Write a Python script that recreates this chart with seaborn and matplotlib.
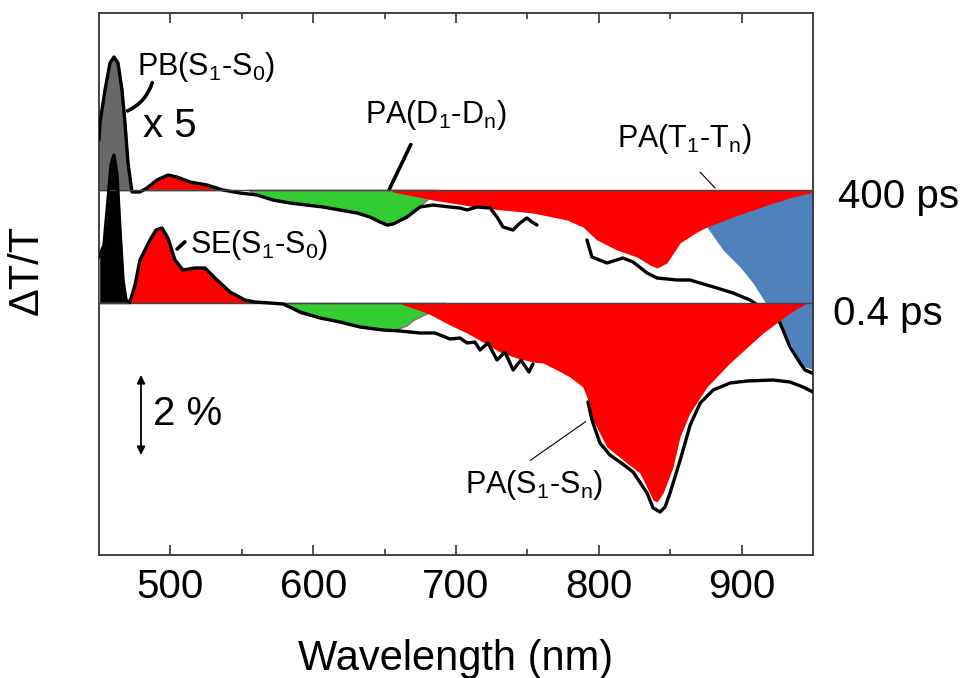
import numpy as np
import pandas as pd
import matplotlib
matplotlib.use("Agg")
import matplotlib.pyplot as plt
import seaborn as sns
from matplotlib.ticker import FixedLocator

# ---------------- data (wavelength in nm, dT/T in %) ----------------
offset_400 = 2.825          # vertical offset of the 400 ps trace

# 0.4 ps measured trace (two segments, gap near the fundamental)
wl_04_a = [450.0, 453.5, 456.3, 458.4, 460.5, 462.6, 464.7, 466.8, 468.9, 471.7,
           475.2, 478.7, 485.7, 489.9, 494.1, 498.3, 503.2, 508.8, 517.2, 524.2,
           531.2, 541.7, 552.2, 559.2, 569.7, 578.9, 590.8, 604.8, 618.8, 632.8,
           648.9, 660.8, 674.8, 685.3, 695.8, 702.8, 707.7, 713.2, 716.8, 722.4,
           728.7, 734.3, 740.0, 745.5, 751.1, 753.9]
dt_04_a = [1.15, 1.45, 2.575, 3.45, 3.70, 3.20, 1.825, 0.575, 0.075, 0.025,
           0.45, 1.075, 1.575, 1.825, 1.875, 1.625, 1.075, 0.825, 0.875, 0.875,
           0.625, 0.275, 0.075, 0.025, 0.0, -0.025, -0.225, -0.375, -0.475, -0.6,
           -0.675, -0.7, -0.75, -0.75, -0.9, -0.875, -1.0, -0.975, -1.175, -1.0,
           -1.425, -1.225, -1.675, -1.425, -1.725, -1.525]
wl_04_b = [792.4, 795.2, 800.8, 807.8, 814.8, 824.0, 833.8, 838.0, 842.9, 846.4,
           849.9, 857.0, 864.0, 871.0, 880.1, 892.0, 903.8, 922.0, 933.9, 943.0, 950.0]
dt_04_b = [-2.475, -2.925, -3.5, -3.8, -3.975, -4.225, -4.75, -5.125, -5.225, -5.1,
           -4.75, -3.925, -3.05, -2.5, -2.175, -2.0, -1.95, -1.925, -1.975, -2.1, -2.225]

# 400 ps measured trace (x5)
wl_400_a = [450.0, 450.7, 454.2, 457.7, 460.5, 463.3, 466.1, 468.2, 470.3, 473.1,
            478.7, 483.6, 490.6, 498.3, 504.6, 513.7, 525.6, 536.8, 548.7, 560.6,
            571.8, 583.8, 606.9, 630.7, 639.8, 646.8, 651.7, 655.9, 665.7, 674.8,
            683.9, 695.8, 702.8, 707.7, 714.7, 723.8, 728.7, 732.9, 739.9, 744.8,
            749.7, 753.2, 756.7]
dt_400_a = [1.25, 1.675, 2.5, 3.175, 3.325, 3.175, 2.5, 1.675, 0.675, -0.05,
            -0.05, 0.05, 0.25, 0.375, 0.325, 0.2, 0.125, 0.0, -0.075, -0.125,
            -0.25, -0.325, -0.425, -0.575, -0.675, -0.8, -0.875, -0.85, -0.675, -0.425,
            -0.375, -0.425, -0.45, -0.5, -0.425, -0.45, -0.675, -0.925, -1.0, -0.825,
            -0.7, -0.8, -0.875]
wl_400_b = [791.7, 795.2, 805.7, 816.9, 824.0, 833.8, 840.8, 854.8, 863.9, 870.8,
            882.8, 894.0, 905.9, 916.4, 926.9, 933.9, 940.9, 944.4, 949.3]
dt_400_b = [-1.25, -1.675, -1.825, -1.7, -1.8, -2.075, -2.2, -2.25, -2.25, -2.325,
            -2.45, -2.575, -2.75, -3.0, -3.325, -3.925, -4.325, -4.5, -4.575]

# schematic components, 400 ps
wl_dd_400 = [555.0, 557.8, 571.8, 583.8, 606.9, 630.7, 639.8, 646.8, 651.7, 655.9,
             665.7, 672.7, 681.8, 686.7]
dt_dd_400 = [0.0, -0.075, -0.25, -0.325, -0.425, -0.575, -0.675, -0.8, -0.875, -0.85,
             -0.675, -0.45, -0.175, 0.0]
wl_tt_400 = [655.0, 655.9, 683.9, 718.9, 753.9, 777.7, 788.9, 798.7, 812.7, 826.8,
             835.9, 840.8, 847.7, 856.8, 868.7, 875.7, 894.0, 917.8, 936.0, 947.9, 949.5]
dt_tt_400 = [0.0, -0.05, -0.25, -0.45, -0.575, -0.75, -0.925, -1.25, -1.5, -1.675,
             -1.875, -1.95, -1.825, -1.325, -1.05, -0.925, -0.675, -0.375, -0.175, -0.075, 0.0]
wl_blue = [875.7, 887.0, 898.9, 908.0, 916.4, 925.5, 933.9, 940.9, 944.4, 949.3, 950.0]
dt_blue = [-0.925, -1.5, -1.925, -2.325, -2.8, -3.3, -3.825, -4.3, -4.425, -4.475, -4.475]

# schematic components, 0.4 ps
wl_dd_04 = [578.9, 590.8, 604.8, 618.8, 632.8, 648.9, 658.7, 665.7, 669.9, 676.9,
            681.8, 688.8, 692.3]
dt_dd_04 = [0.0, -0.25, -0.375, -0.475, -0.6, -0.675, -0.65, -0.55, -0.425, -0.3,
            -0.225, -0.05, 0.0]
wl_ss_04 = [659.4, 679.7, 695.8, 707.7, 718.9, 730.8, 742.7, 753.9, 760.9, 770.7,
            779.8, 788.9, 792.4, 795.9, 805.7, 819.7, 828.8, 838.0, 840.8, 845.0,
            852.0, 856.8, 863.8, 875.7, 891.8, 915.0, 933.9, 944.4, 947.9]
dt_ss_04 = [0.0, -0.25, -0.55, -0.75, -0.975, -1.225, -1.375, -1.475, -1.5, -1.675,
            -1.85, -2.1, -2.425, -2.925, -3.6, -4.0, -4.25, -4.925, -4.975, -4.75,
            -4.1, -3.35, -2.75, -2.1, -1.5, -0.75, -0.25, -0.025, 0.0]

x_ticks = [500, 600, 700, 800, 900]
x_minor = [550, 650, 750, 850]

RED = "#ff0000"
GREEN = "#33cc33"
BLUE = "#4f81bd"
PBGRAY = "#686868"
EDGE = "#7a7a7a"

# ---------------- figure ----------------
sns.set_theme(style="white")
plt.rcParams["font.family"] = ["Liberation Sans", "DejaVu Sans"]
plt.rcParams["mathtext.fontset"] = "custom"
plt.rcParams["mathtext.rm"] = "Liberation Sans"
plt.rcParams["mathtext.it"] = "Liberation Sans:italic"
plt.rcParams["mathtext.default"] = "regular"
plt.rcParams["text.color"] = "black"
plt.rcParams["axes.labelcolor"] = "black"
plt.rcParams["xtick.color"] = "black"

fig = plt.figure(figsize=(9.7, 6.78), dpi=100)
ax = fig.add_axes([99 / 970, 1 - 555 / 678, 714 / 970, 542 / 678])

# long table for the measured traces
frames = []
for name, wl, dt, off in [("04a", wl_04_a, dt_04_a, 0.0), ("04b", wl_04_b, dt_04_b, 0.0),
                          ("400a", wl_400_a, dt_400_a, offset_400),
                          ("400b", wl_400_b, dt_400_b, offset_400)]:
    frames.append(pd.DataFrame({"wl": wl, "y": np.asarray(dt) + off, "seg": name,
                                "delay": "0.4 ps" if name.startswith("04") else "400 ps"}))
df = pd.concat(frames, ignore_index=True)

w4a, d4a = np.array(wl_04_a), np.array(dt_04_a)
w40a, d40a = np.array(wl_400_a), np.array(dt_400_a)

# --- 400 ps components ---
ax.fill_between(wl_blue, offset_400, np.array(dt_blue) + offset_400, color=BLUE, lw=0, zorder=1)
m = w40a <= 473.1
ax.fill_between(w40a[m], offset_400, d40a[m] + offset_400, color=PBGRAY, edgecolor=EDGE, lw=1.2, zorder=2)
m = (w40a >= 478.7) & (w40a <= 536.8)
ax.fill_between(w40a[m], offset_400, np.maximum(d40a[m], 0) + offset_400, color=RED,
                edgecolor=EDGE, lw=1.2, zorder=2)
ax.fill_between(wl_dd_400, offset_400, np.array(dt_dd_400) + offset_400, color=GREEN,
                edgecolor=EDGE, lw=1.2, zorder=2)
ax.fill_between(wl_tt_400, offset_400, np.array(dt_tt_400) + offset_400, color=RED, lw=0, zorder=3)

sns.lineplot(data=df[df.delay == "400 ps"], x="wl", y="y", units="seg", estimator=None,
             sort=False, color="black", lw=2.4, ax=ax, zorder=4, legend=False)

# --- 0.4 ps components ---
m = w4a <= 471.7
ax.fill_between(w4a[m], 0, d4a[m], color="black", edgecolor=EDGE, lw=1.2, zorder=5)
m = (w4a >= 471.7) & (w4a <= 569.7)
ax.fill_between(w4a[m], 0, np.maximum(d4a[m], 0), color=RED, lw=0, zorder=5)
ax.fill_between(wl_dd_04, 0, dt_dd_04, color=GREEN, edgecolor=EDGE, lw=1.2, zorder=5)
ax.fill_between(wl_ss_04, 0, dt_ss_04, color=RED, lw=0, zorder=6)

ax.axhline(0, color="#444444", lw=1.0, zorder=6.5)
ax.axhline(offset_400, color="#444444", lw=1.0, zorder=6.5)

sns.lineplot(data=df[df.delay == "0.4 ps"], x="wl", y="y", units="seg", estimator=None,
             sort=False, color="black", lw=2.4, ax=ax, zorder=7, legend=False)

# ---------------- axes styling ----------------
ax.set_xlim(450, 950)
ax.set_ylim(-6.3, 7.25)
ax.xaxis.set_major_locator(FixedLocator(x_ticks))
ax.xaxis.set_minor_locator(FixedLocator(x_minor))
ax.set_yticks([])
ax.tick_params(axis="x", which="both", direction="in", top=True, bottom=True,
               colors="#333333", labelcolor="black", labelsize=29, pad=9)
ax.tick_params(axis="x", which="major", length=7, width=1.2)
ax.tick_params(axis="x", which="minor", length=4, width=1.2)
for sp in ax.spines.values():
    sp.set_visible(True)
    sp.set_color("#333333")
    sp.set_linewidth(1.3)

ax.set_xlabel("Wavelength (nm)", fontsize=30, labelpad=24, color="black")
ax.set_ylabel("ΔT/T", fontsize=30, color="black")
ax.yaxis.set_label_coords(-0.073, 0.526)

# ---------------- annotations ----------------
lab = dict(fontsize=22, ha="left", va="baseline", zorder=10, color="black")
big = dict(fontsize=29, ha="left", va="baseline", color="black")
ax.text(476.6, 5.7, "PB(S$_1$-S$_0$)", **lab)
ax.text(480.8, 4.15, "x 5", **big)
ax.text(513.7, 1.25, "SE(S$_1$-S$_0$)", **lab)
ax.text(636.3, 4.5, "PA(D$_1$-D$_n$)", **lab)
ax.text(812.7, 3.9, "PA(T$_1$-T$_n$)", **lab)
ax.text(706.3, -4.75, "PA(S$_1$-S$_n$)", **lab)
ax.text(487.8, -3.05, "2 %", **big)
ax.text(967.5, 2.375, "400 ps", clip_on=False, **big)
ax.text(964.0, -0.55, "0.4 ps", clip_on=False, **big)

thick = dict(arrowstyle="-", color="black", lw=2.6)
thin = dict(arrowstyle="-", color="black", lw=0.8)
ax.annotate("", xy=(468.2, 4.775), xytext=(487.8, 5.575),
            arrowprops=dict(connectionstyle="arc3,rad=-0.25", **thick))
ax.annotate("", xy=(503.2, 1.3), xytext=(511.6, 1.575), arrowprops=thick)
ax.annotate("", xy=(652.4, 2.775), xytext=(669.2, 4.025), arrowprops=thick)
ax.annotate("", xy=(882.8, 2.825), xytext=(869.5, 3.325), arrowprops=thin)
ax.annotate("", xy=(792.4, -2.925), xytext=(750.4, -3.975), arrowprops=thin)

# 2 % scale bar
ax.annotate("", xy=(479.4, -1.8), xytext=(479.4, -3.8),
            arrowprops=dict(arrowstyle="<|-|>", color="black", lw=1.3, mutation_scale=12,
                            shrinkA=0, shrinkB=0))

fig.savefig("out.png", dpi=100)
